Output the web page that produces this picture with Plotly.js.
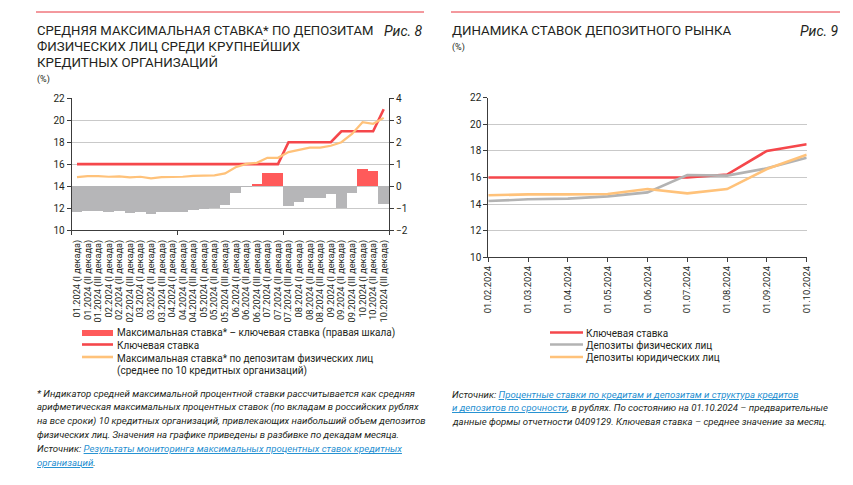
<!DOCTYPE html>
<html>
<head>
<meta charset="utf-8">
<script src="https://cdn.plot.ly/plotly-3.0.1.min.js"></script>
<style>html,body{margin:0;padding:0;background:#fff;}#chart{width:853px;height:485px;}</style>
</head>
<body>
<div id="chart"></div>
<script>
// ---------- DATA ----------
const decadeLabels = [
  "01.2024 (I декада)","01.2024 (II декада)","01.2024 (III декада)",
  "02.2024 (I декада)","02.2024 (II декада)","02.2024 (III декада)",
  "03.2024 (I декада)","03.2024 (II декада)","03.2024 (III декада)",
  "04.2024 (I декада)","04.2024 (II декада)","04.2024 (III декада)",
  "05.2024 (I декада)","05.2024 (II декада)","05.2024 (III декада)",
  "06.2024 (I декада)","06.2024 (II декада)","06.2024 (III декада)",
  "07.2024 (I декада)","07.2024 (II декада)","07.2024 (III декада)",
  "08.2024 (I декада)","08.2024 (II декада)","08.2024 (III декада)",
  "09.2024 (I декада)","09.2024 (II декада)","09.2024 (III декада)",
  "10.2024 (I декада)","10.2024 (II декада)","10.2024 (III декада)"
];
// Максимальная ставка – ключевая ставка (п.п., правая шкала)
const spreadValues = [-1.20,-1.14,-1.14,-1.17,-1.14,-1.22,-1.17,-1.29,-1.17,-1.17,
                      -1.17,-1.09,-1.05,-1.02,-0.87,-0.30,-0.05,0.10,0.60,0.60,
                      -0.90,-0.72,-0.53,-0.53,-0.35,-1.02,-0.30,0.80,0.68,-0.82];
// Ключевая ставка (%)
const keyRateDecade = [16,16,16,16,16,16,16,16,16,16,
                       16,16,16,16,16,16,16,16,16,16,
                       18,18,18,18,18,19,19,19,19,21];
// Максимальная ставка по депозитам ФЛ (%)
const maxRateDecade = [14.82,14.90,14.90,14.85,14.88,14.79,14.85,14.71,14.82,14.82,
                       14.85,14.93,14.97,14.97,15.16,15.72,16.02,16.12,16.58,16.58,
                       17.10,17.30,17.50,17.50,17.68,18.00,18.75,19.82,19.68,20.22];

const monthDates = ["01.02.2024","01.03.2024","01.04.2024","01.05.2024","01.06.2024",
                    "01.07.2024","01.08.2024","01.09.2024","01.10.2024"];
const keyRateMonth = [16,16,16,16,16,16,16.22,18.0,18.5];
const depIndividuals = [14.23,14.36,14.41,14.58,14.88,16.19,16.14,16.69,17.49];
const depLegal = [14.66,14.73,14.73,14.76,15.13,14.81,15.13,16.64,17.71];

const leftLeftTicks = [10,12,14,16,18,20,22];
const leftRightTicks = [-2,-1,0,1,2,3,4];
const decadeBoundaryTicks = [-0.5,9.5,19.5,29.5];

// ---------- STYLE ----------
const W = 853, H = 485;
const RED_LINE = "#f5474b", RED_BAR = "#ff5a5a", GREY_BAR = "#b6b6b8";
const ORANGE = "#ffc27a", GREY_LINE = "#b3b3b3", GRID = "#c9c9c9", AXIS = "#3c3c3c";
const TXT = "#231f20", LINK = "#1f8fd1";
const FONT = "Roboto, 'Open Sans', sans-serif";
const px = x => x / W;
const py = y => 1 - y / H;

const decadeIdx = decadeLabels.map((_, i) => i);

const traces = [
  {
    type: "bar", x: decadeIdx, y: spreadValues, xaxis: "x", yaxis: "y2",
    marker: {color: spreadValues.map(v => v >= 0 ? RED_BAR : GREY_BAR), line: {width: 0}},
    showlegend: false, hoverinfo: "skip"
  },
  {
    type: "scatter", mode: "lines", x: decadeIdx, y: keyRateDecade, xaxis: "x", yaxis: "y",
    line: {color: RED_LINE, width: 2.6}, showlegend: false
  },
  {
    type: "scatter", mode: "lines", x: decadeIdx, y: maxRateDecade, xaxis: "x", yaxis: "y",
    line: {color: ORANGE, width: 2.2}, showlegend: false
  },
  {
    type: "scatter", mode: "lines", x: monthDates, y: keyRateMonth, xaxis: "x2", yaxis: "y3",
    line: {color: RED_LINE, width: 2.6}, showlegend: false
  },
  {
    type: "scatter", mode: "lines", x: monthDates, y: depIndividuals, xaxis: "x2", yaxis: "y3",
    line: {color: GREY_LINE, width: 2.6}, showlegend: false
  },
  {
    type: "scatter", mode: "lines", x: monthDates, y: depLegal, xaxis: "x2", yaxis: "y3",
    line: {color: ORANGE, width: 2.6}, showlegend: false
  }
];

function txt(text, x, y, size, opts) {
  return Object.assign({
    xref: "paper", yref: "paper", x: px(x), y: py(y), xanchor: "left", yanchor: "middle",
    showarrow: false, text: text, align: "left", borderpad: 0,
    font: {family: FONT, size: size, color: TXT}
  }, opts || {});
}
const link = s => '<span style="color:' + LINK + ';text-decoration:underline">' + s + '</span>';

const annotations = [
  txt("СРЕДНЯЯ МАКСИМАЛЬНАЯ СТАВКА* ПО ДЕПОЗИТАМ", 36, 31, 13.1),
  txt("ФИЗИЧЕСКИХ ЛИЦ СРЕДИ КРУПНЕЙШИХ", 36, 47, 13.3),
  txt("КРЕДИТНЫХ ОРГАНИЗАЦИЙ", 36, 63, 13.3),
  txt("(%)", 36, 79.5, 9),
  txt("<i>Рис. 8</i>", 424, 31, 14, {xanchor: "right"}),
  txt("ДИНАМИКА СТАВОК ДЕПОЗИТНОГО РЫНКА", 451, 31, 13.3),
  txt("(%)", 451, 47.5, 9),
  txt("<i>Рис. 9</i>", 840, 31, 14, {xanchor: "right"}),
  // left legend
  txt("Максимальная ставка* – ключевая ставка (правая шкала)", 116, 333, 10),
  txt("Ключевая ставка", 116, 345.5, 10),
  txt("Максимальная ставка* по депозитам физических лиц", 116, 358, 10),
  txt("(среднее по 10 кредитных организаций)", 116, 371, 10),
  // right legend
  txt("Ключевая ставка", 585, 333.5, 10),
  txt("Депозиты физических лиц", 585, 345.5, 10),
  txt("Депозиты юридических лиц", 585, 357.5, 10),
  // left footnote
  txt("<i>* Индикатор средней максимальной процентной ставки рассчитывается как средняя</i>", 36, 393.5, 9.6),
  txt("<i>арифметическая максимальных процентных ставок (по вкладам в российских рублях</i>", 36, 407, 9.6),
  txt("<i>на все сроки) 10 кредитных организаций, привлекающих наибольший объем депозитов</i>", 36, 420.5, 9.6),
  txt("<i>физических лиц. Значения на графике приведены в разбивке по декадам месяца.</i>", 36, 434, 9.6),
  txt("<i>Источник: " + link("Результаты мониторинга максимальных процентных ставок кредитных") + "</i>", 36, 448, 9.6),
  txt("<i>" + link("организаций") + ".</i>", 36, 462, 9.6),
  // right footnote
  txt("<i>Источник: " + link("Процентные ставки по кредитам и депозитам и структура кредитов") + "</i>", 451, 394, 9.6),
  txt("<i>" + link("и депозитов по срочности") + ", в рублях. По состоянию на 01.10.2024 – предварительные</i>", 451, 407.5, 9.6),
  txt("<i>данные формы отчетности 0409129. Ключевая ставка – среднее значение за месяц.</i>", 451, 421, 9.6)
];

function pline(x0, x1, y, color, width) {
  return {type: "line", xref: "paper", yref: "paper", x0: px(x0), x1: px(x1), y0: py(y), y1: py(y),
          line: {color: color, width: width}};
}
const shapes = [
  pline(36, 424, 12, "#e8323c", 1),
  pline(451, 840, 12, "#e8323c", 1),
  {type: "rect", xref: "paper", yref: "paper", x0: px(82), x1: px(113), y0: py(330), y1: py(336),
   fillcolor: RED_BAR, line: {width: 0}},
  pline(82, 113, 344.5, RED_LINE, 2.6),
  pline(82, 113, 357, ORANGE, 2.6),
  pline(550, 583, 332.5, RED_LINE, 2.6),
  pline(550, 583, 344.5, GREY_LINE, 2.6),
  pline(550, 583, 357, ORANGE, 2.6)
];

const tickFont = {family: FONT, size: 10, color: TXT};

const layout = {
  width: W, height: H,
  margin: {l: 0, r: 0, t: 0, b: 0},
  paper_bgcolor: "#ffffff", plot_bgcolor: "rgba(0,0,0,0)",
  showlegend: false, bargap: 0,
  xaxis: {
    domain: [px(71.7), px(389)], anchor: "y", range: [-0.5, 29.5],
    tickmode: "array", tickvals: decadeIdx, ticktext: decadeLabels, tickangle: -90,
    tickfont: {family: FONT, size: 9.2, color: TXT},
    ticks: "outside", ticklen: 5, tickcolor: "rgba(0,0,0,0)",
    minor: {tickmode: "array", tickvals: decadeBoundaryTicks, ticks: "outside", ticklen: 4,
            tickcolor: AXIS, tickwidth: 1, showgrid: false},
    showline: true, linecolor: AXIS, linewidth: 1, showgrid: false, zeroline: false, fixedrange: true
  },
  yaxis: {
    domain: [py(230), py(98.3)], anchor: "x", range: [10, 22],
    tickmode: "array", tickvals: leftLeftTicks, tickfont: tickFont,
    ticks: "outside", ticklen: 4, tickcolor: AXIS,
    showline: true, linecolor: AXIS, linewidth: 1,
    showgrid: true, gridcolor: GRID, gridwidth: 1, zeroline: false, fixedrange: true
  },
  yaxis2: {
    overlaying: "y", side: "right", anchor: "x", range: [-2, 4],
    tickmode: "array", tickvals: leftRightTicks, tickfont: tickFont,
    ticks: "outside", ticklen: 4, tickcolor: AXIS,
    showline: true, linecolor: AXIS, linewidth: 1,
    showgrid: false, zeroline: false, fixedrange: true
  },
  xaxis2: {
    domain: [px(488.3), px(806.7)], anchor: "y3", type: "category", range: [0, 8],
    tickangle: -90, tickfont: {family: FONT, size: 9.4, color: TXT},
    ticks: "outside", ticklen: 4, tickcolor: AXIS,
    showline: true, linecolor: AXIS, linewidth: 1, showgrid: false, zeroline: false, fixedrange: true
  },
  yaxis3: {
    domain: [py(257.3), py(97.7)], anchor: "x2", range: [10, 22],
    tickmode: "array", tickvals: leftLeftTicks, tickfont: tickFont,
    ticks: "outside", ticklen: 4, tickcolor: AXIS,
    showline: true, linecolor: AXIS, linewidth: 1,
    showgrid: true, gridcolor: GRID, gridwidth: 1, zeroline: false, fixedrange: true
  },
  annotations: annotations,
  shapes: shapes
};

Plotly.newPlot("chart", traces, layout, {staticPlot: true, displayModeBar: false});
</script>
</body>
</html>
